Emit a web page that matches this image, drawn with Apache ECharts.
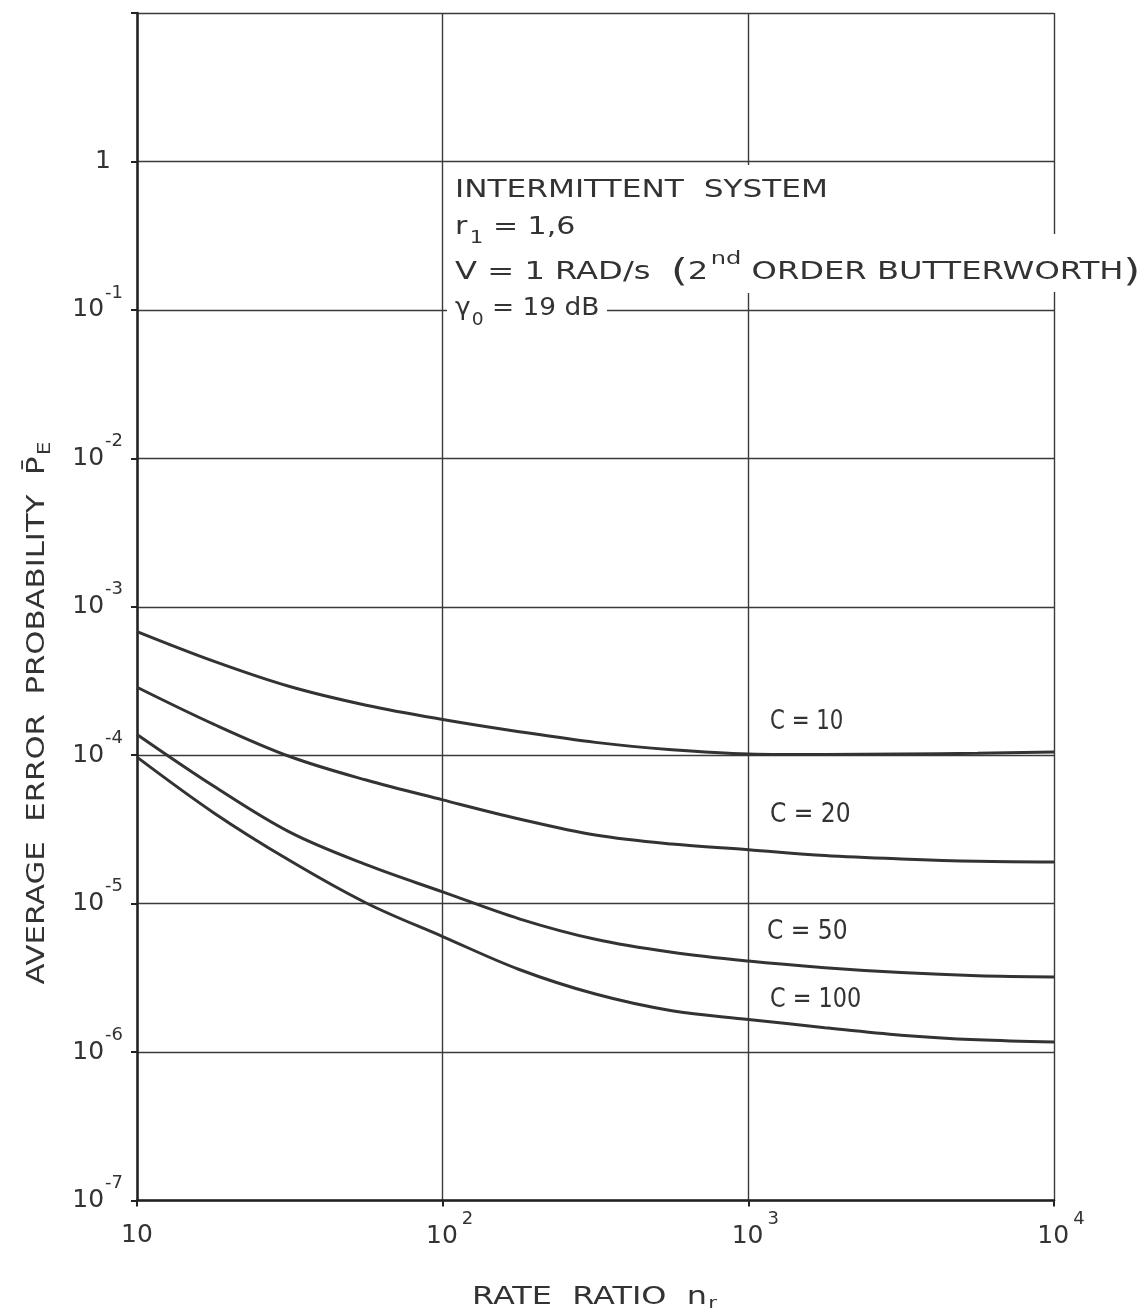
<!DOCTYPE html>
<html>
<head>
<meta charset="utf-8">
<title>Average error probability vs rate ratio</title>
<script src="https://cdn.jsdelivr.net/npm/echarts@6/dist/echarts.min.js"></script>
<style>
  html, body { margin: 0; padding: 0; background: #ffffff; }
  #chart { width: 1148px; height: 1315px; }
</style>
</head>
<body>
<div id="chart"></div>
<script>
// Rate ratio n_r sample points (log-spaced)
const rateRatio = [10, 17.8, 31.6, 56.2, 100, 178, 316, 562, 1000, 1780, 3160, 5620, 10000];

// Average error probability for each value of C
const peC10  = [6.8e-4, 4.3e-4, 2.9e-4, 2.17e-4, 1.74e-4, 1.44e-4, 1.22e-4, 1.09e-4, 1.02e-4, 1.01e-4, 1.02e-4, 1.03e-4, 1.05e-4];
const peC20  = [2.87e-4, 1.62e-4, 9.8e-5, 6.8e-5, 5.0e-5, 3.72e-5, 2.9e-5, 2.52e-5, 2.31e-5, 2.11e-5, 2.0e-5, 1.93e-5, 1.91e-5];
const peC50  = [1.38e-4, 6.2e-5, 3.03e-5, 1.83e-5, 1.2e-5, 7.9e-6, 5.75e-6, 4.7e-6, 4.1e-6, 3.7e-6, 3.43e-6, 3.27e-6, 3.21e-6];
const peC100 = [9.7e-5, 4.1e-5, 1.95e-5, 1.01e-5, 6.0e-6, 3.6e-6, 2.46e-6, 1.9e-6, 1.66e-6, 1.46e-6, 1.30e-6, 1.21e-6, 1.17e-6];

const curveNames = ['C = 10', 'C = 20', 'C = 50', 'C = 100'];

// Tick labels: x decades 10..10^4, y decades 10^-7..1
const xTickLabels = { 1: '{p|10}', 2: '{b|10}{sup|2}', 3: '{b|10}{sup|3}', 4: '{b|10}{sup|4}' };
const yTickLabels = { 0: '{one|1}', '-1': '{b|10}{sup|-1}', '-2': '{b|10}{sup|-2}', '-3': '{b|10}{sup|-3}',
                      '-4': '{b|10}{sup|-4}', '-5': '{b|10}{sup|-5}', '-6': '{b|10}{sup|-6}', '-7': '{b|10}{sup|-7}' };

const INK = '#333333';
const FONT = 'DejaVu Sans';

const chart = echarts.init(document.getElementById('chart'), null, { renderer: 'canvas' });

function pairs(ys) { return rateRatio.map((x, i) => [x, ys[i]]); }

const yRich = {
  b:   { fontFamily: FONT, fontSize: 25, color: INK, lineHeight: 50 },
  sup: { fontFamily: FONT, fontSize: 18, color: INK, padding: [0, 0, 34, 1] },
  one: { fontFamily: FONT, fontSize: 25, color: INK, padding: [0, 12, 0, 0] }
};

const xRich = {
  b:   { fontFamily: FONT, fontSize: 25, color: INK, lineHeight: 50, padding: [0, 0, 0, 14] },
  sup: { fontFamily: FONT, fontSize: 18, color: INK, padding: [0, 0, 34, 4] },
  p:   { fontFamily: FONT, fontSize: 25, color: INK, lineHeight: 50 }
};

function lineSeries(name, ys) {
  return {
    name: name,
    type: 'line',
    data: pairs(ys),
    smooth: 0.35,
    showSymbol: false,
    silent: true,
    lineStyle: { color: INK, width: 3 },
    z: 5
  };
}

const textStyleBase = { fontFamily: FONT, fill: INK };

const option = {
  backgroundColor: '#ffffff',
  animation: false,
  grid: { left: 137, right: 94, top: 13, bottom: 114.5, containLabel: false },
  xAxis: {
    type: 'log',
    logBase: 10,
    min: 10,
    max: 10000,
    splitNumber: 3,
    axisLine: { show: true, onZero: false, lineStyle: { color: '#222', width: 2.5 } },
    axisTick: { show: true, length: 6, lineStyle: { color: '#222', width: 2 } },
    minorTick: { show: false },
    splitLine: { show: true, lineStyle: { color: '#3a3a3a', width: 1.4 } },
    axisLabel: {
      margin: 10,
      formatter: function (v) {
        const e = Math.round(Math.log10(v));
        return xTickLabels[e] || '';
      },
      rich: xRich
    }
  },
  yAxis: {
    type: 'log',
    logBase: 10,
    min: 1e-7,
    max: 10,
    splitNumber: 8,
    axisLine: { show: true, onZero: false, lineStyle: { color: '#222', width: 2.5 } },
    axisTick: { show: true, length: 6, lineStyle: { color: '#222', width: 2 } },
    minorTick: { show: false },
    splitLine: { show: true, lineStyle: { color: '#3a3a3a', width: 1.4 } },
    axisLabel: {
      margin: 14,
      formatter: function (v) {
        const e = Math.round(Math.log10(v));
        return yTickLabels[e] || '';
      },
      rich: yRich
    }
  },
  series: [
    lineSeries(curveNames[0], peC10),
    lineSeries(curveNames[1], peC20),
    lineSeries(curveNames[2], peC50),
    lineSeries(curveNames[3], peC100)
  ],
  graphic: [
    // gaps in the grid behind the annotation block
    { type: 'rect', z: 10, shape: { x: 447, y: 302, width: 160, height: 16 }, style: { fill: '#ffffff' } },
    { type: 'rect', z: 10, shape: { x: 741, y: 165, width: 15, height: 128 }, style: { fill: '#ffffff' } },
    { type: 'rect', z: 10, shape: { x: 1047, y: 234, width: 15, height: 58 }, style: { fill: '#ffffff' } },

    // annotation block
    { type: 'text', z: 20, x: 455, y: 191, scaleX: 1.3,
      style: Object.assign({ text: 'INTERMITTENT  SYSTEM', fontSize: 24, verticalAlign: 'middle', align: 'left' }, textStyleBase) },
    { type: 'text', z: 20, x: 455, y: 228, scaleX: 1.25,
      style: Object.assign({ text: 'r{sub|1} = 1,6', fontSize: 24, verticalAlign: 'middle', align: 'left',
        rich: { sub: { fontFamily: FONT, fontSize: 17, fill: INK, padding: [22, 0, 0, 2] } } }, textStyleBase) },
    { type: 'text', z: 20, x: 455, y: 273, scaleX: 1.34,
      style: Object.assign({ text: 'V = 1 RAD/s  {paren|(}2{sup|nd} ORDER BUTTERWORTH{paren|)}', fontSize: 24, verticalAlign: 'middle', align: 'left',
        rich: {
          sup: { fontFamily: FONT, fontSize: 18, fill: INK, padding: [0, 0, 28, 2] },
          paren: { fontFamily: FONT, fontSize: 32, fill: INK }
        } }, textStyleBase) },
    { type: 'text', z: 20, x: 455, y: 309, scaleX: 1.1,
      style: Object.assign({ text: 'γ{sub|0} = 19 dB', fontSize: 24, verticalAlign: 'middle', align: 'left',
        rich: { sub: { fontFamily: FONT, fontSize: 17, fill: INK, padding: [24, 0, 0, 1] } } }, textStyleBase) },

    // curve labels
    { type: 'text', z: 20, x: 770, y: 722, scaleX: 0.82,
      style: Object.assign({ text: curveNames[0], fontSize: 26, verticalAlign: 'middle', align: 'left' }, textStyleBase) },
    { type: 'text', z: 20, x: 770, y: 815, scaleX: 0.9,
      style: Object.assign({ text: curveNames[1], fontSize: 26, verticalAlign: 'middle', align: 'left' }, textStyleBase) },
    { type: 'text', z: 20, x: 767, y: 932, scaleX: 0.9,
      style: Object.assign({ text: curveNames[2], fontSize: 26, verticalAlign: 'middle', align: 'left' }, textStyleBase) },
    { type: 'text', z: 20, x: 770, y: 1000, scaleX: 0.86,
      style: Object.assign({ text: curveNames[3], fontSize: 26, verticalAlign: 'middle', align: 'left' }, textStyleBase) },

    // axis titles
    { type: 'text', z: 20, x: 38, y: 713, rotation: Math.PI / 2, scaleX: 1.28,
      style: Object.assign({ text: 'AVERAGE  ERROR  PROBABILITY  P\u0304{sub|E}', fontSize: 24, verticalAlign: 'middle', align: 'center',
        rich: { sub: { fontFamily: FONT, fontSize: 17, fill: INK, padding: [16, 0, 0, 1] } } }, textStyleBase) },
    { type: 'text', z: 20, x: 472, y: 1298, scaleX: 1.33,
      style: Object.assign({ text: 'RATE  RATIO  n{sub|r}', fontSize: 24, verticalAlign: 'middle', align: 'left',
        rich: { sub: { fontFamily: FONT, fontSize: 16, fill: INK, padding: [12, 0, 0, 1] } } }, textStyleBase) }
  ]
};

chart.setOption(option);
</script>
</body>
</html>
